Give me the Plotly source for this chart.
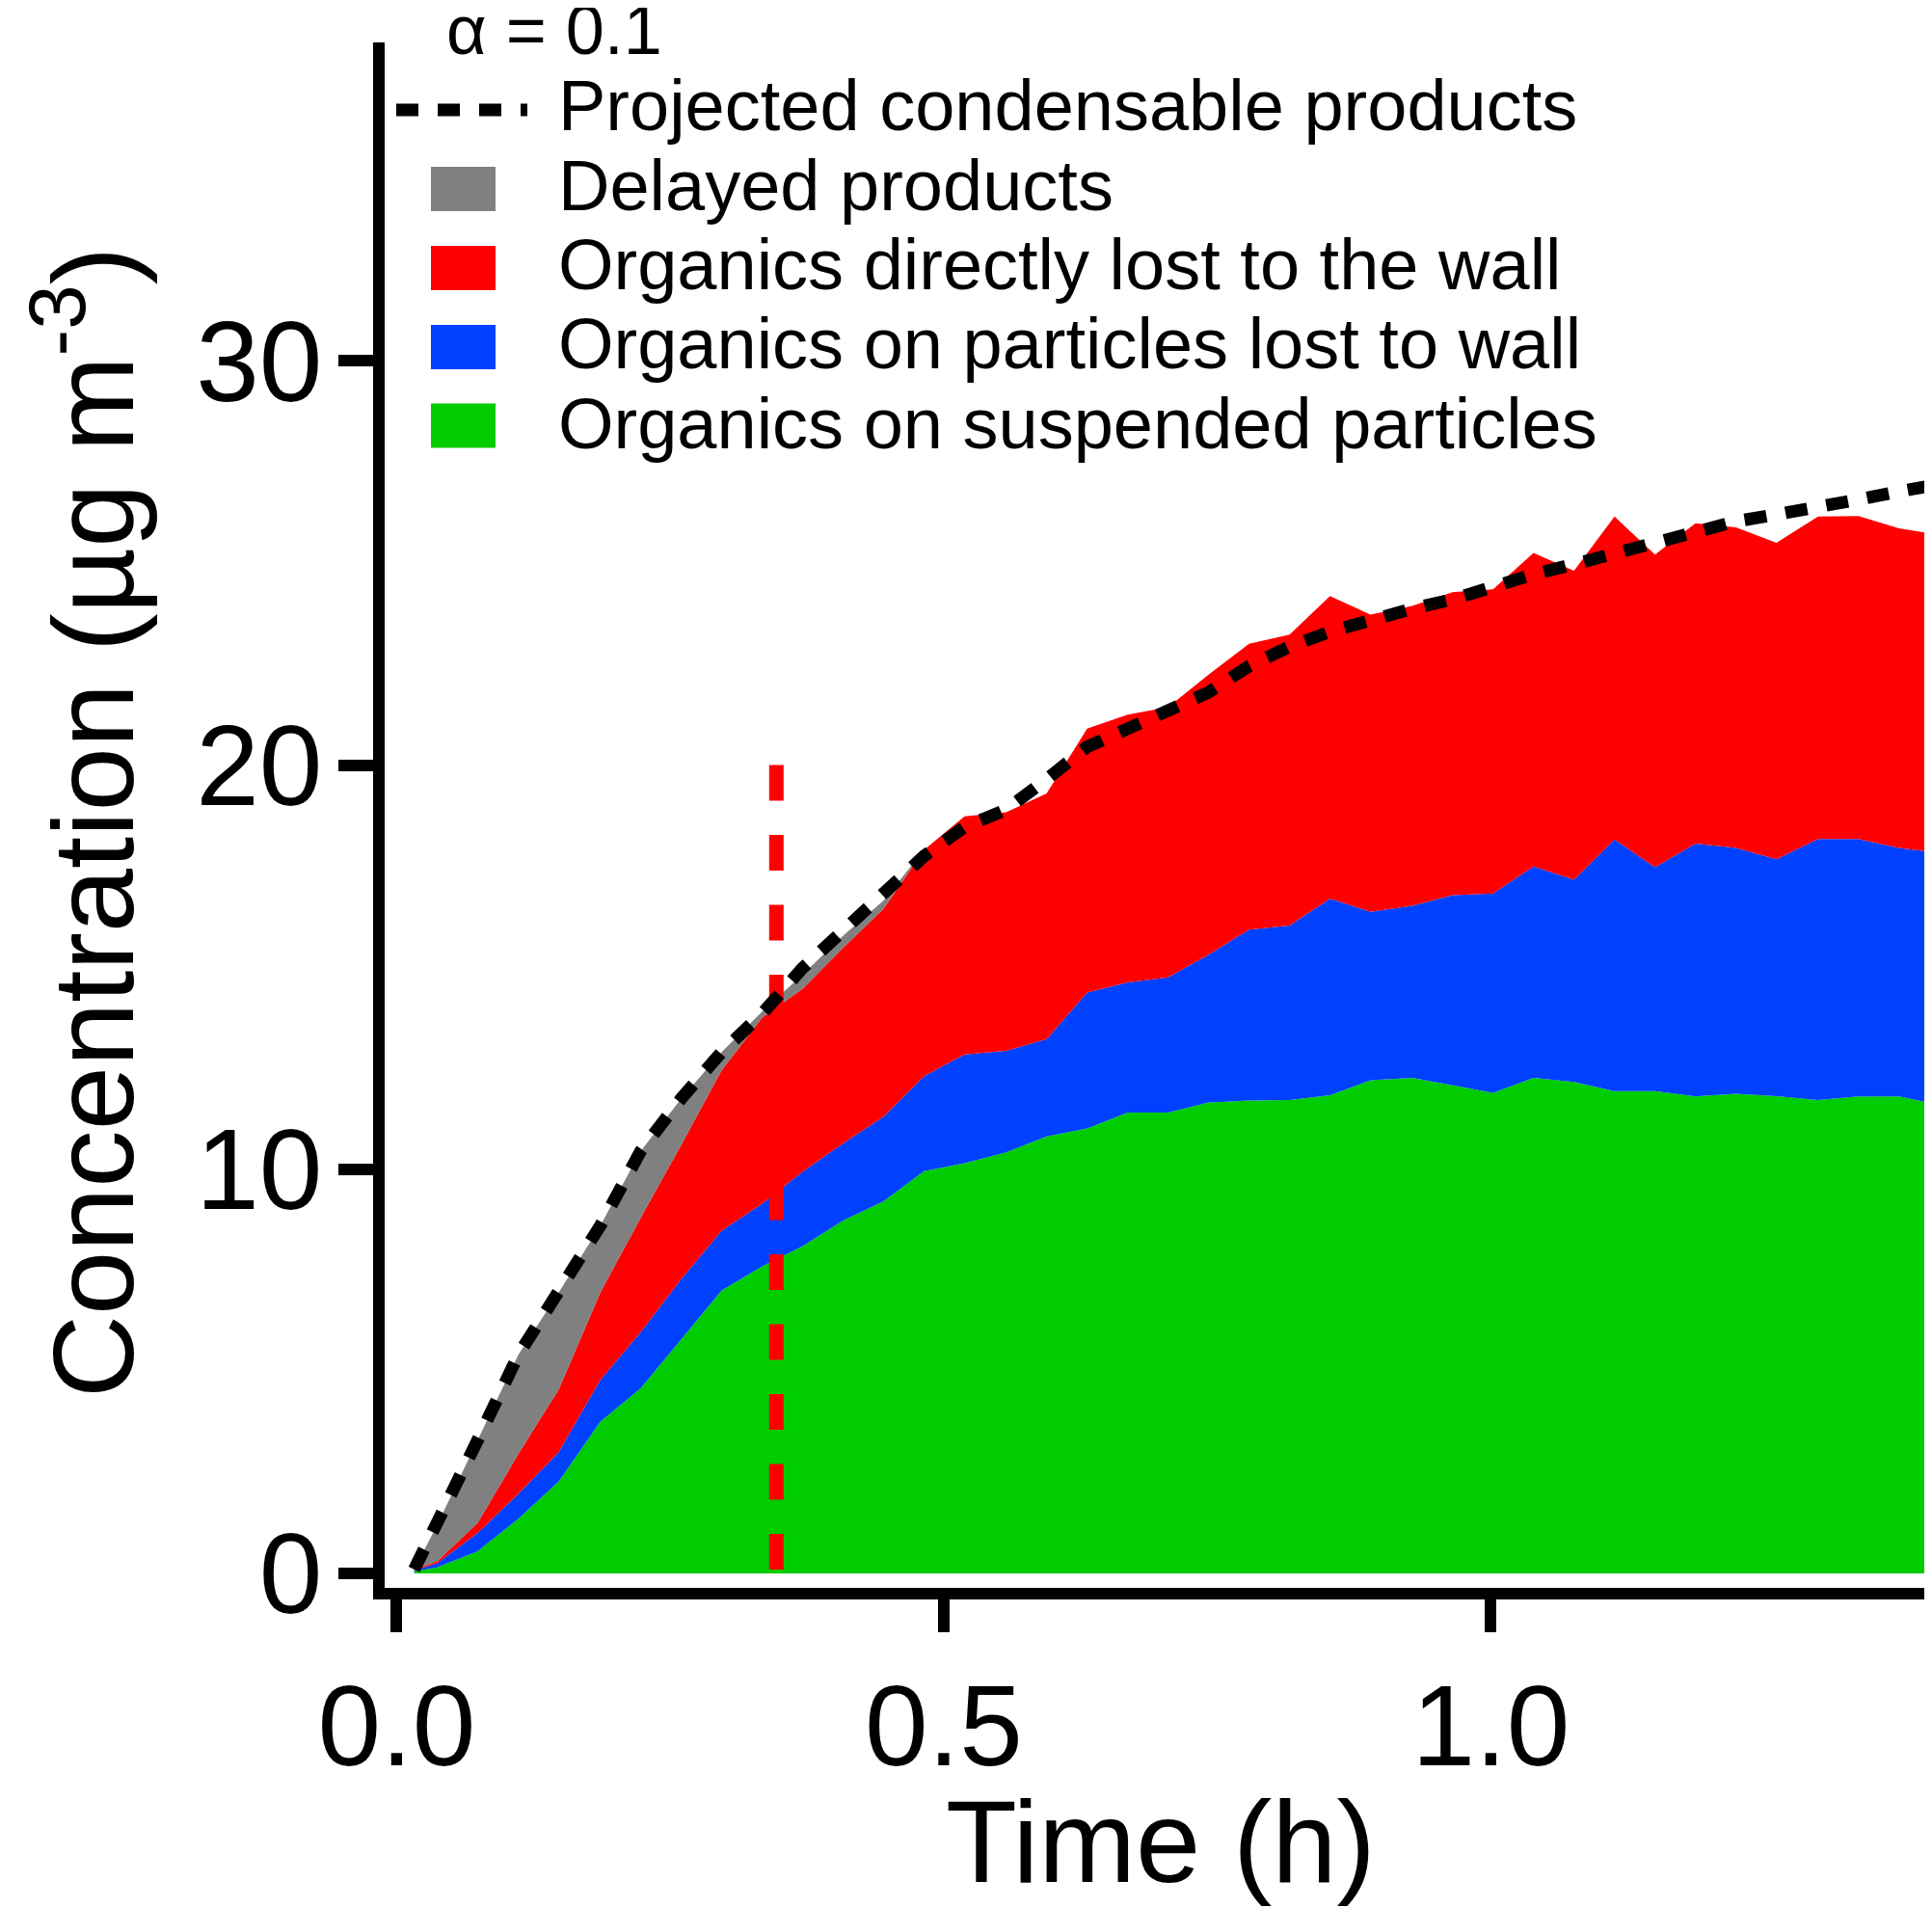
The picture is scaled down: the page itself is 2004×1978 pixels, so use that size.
import plotly.graph_objects as go

# values (alpha = 0.1 case)
time_h = [0.016, 0.037, 0.074, 0.111, 0.148, 0.186, 0.223, 0.260, 0.297, 0.334,
          0.371, 0.408, 0.445, 0.482, 0.519, 0.557, 0.594, 0.631, 0.668, 0.705,
          0.742, 0.779, 0.816, 0.853, 0.890, 0.928, 0.965, 1.002, 1.039, 1.076,
          1.113, 1.150, 1.187, 1.224, 1.261, 1.299, 1.336, 1.373, 1.400]

# top edges of the stacked areas (ug m-3)
suspended = [0.05, 0.15, 0.55, 1.35, 2.27, 3.75, 4.58, 5.8, 7.0, 7.6,
             8.1, 8.73, 9.21, 9.95, 10.15, 10.42, 10.81, 11.01, 11.4, 11.4,
             11.65, 11.7, 11.71, 11.83, 12.2, 12.26, 12.08, 11.89, 12.26, 12.16,
             11.93, 11.93, 11.8, 11.87, 11.81, 11.71, 11.8, 11.8, 11.65]
particle_wall_top = [0.08, 0.25, 1.0, 1.96, 3.0, 4.78, 5.97, 7.28, 8.48, 9.15,
                     9.94, 10.64, 11.3, 12.3, 12.84, 12.93, 13.22, 14.37, 14.62, 14.75,
                     15.31, 15.93, 16.03, 16.7, 16.37, 16.52, 16.78, 16.82, 17.49, 17.16,
                     18.16, 17.47, 18.06, 17.95, 17.67, 18.17, 18.17, 17.95, 17.86]
direct_wall_top = [0.1, 0.3, 1.25, 2.95, 4.55, 6.95, 8.8, 10.6, 12.45, 13.75,
                   14.47, 15.48, 16.45, 17.9, 18.73, 18.83, 19.3, 20.9, 21.25, 21.43,
                   22.24, 23.0, 23.23, 24.18, 23.72, 23.94, 24.28, 24.35, 25.25, 24.81,
                   26.15, 25.21, 25.98, 25.88, 25.5, 26.15, 26.16, 25.86, 25.74]
# thickness of the grey band
delayed = [0.0, 0.9, 2.05, 2.45, 2.4, 1.65, 1.65, 1.15, 0.45, 0.15,
           0.35, 0.3, 0.2, 0.0, 0.0, 0.0, 0.0, 0.0, 0.0, 0.0,
           0.0, 0.0, 0.0, 0.0, 0.0, 0.0, 0.0, 0.0, 0.0, 0.0,
           0.0, 0.0, 0.0, 0.0, 0.0, 0.0, 0.0, 0.0, 0.0]
projected = [0.1, 1.2, 3.3, 5.4, 6.95, 8.6, 10.45, 11.75, 12.9, 13.85,
             14.98, 15.9, 16.85, 17.75, 18.47, 18.9, 19.65, 20.45, 20.9, 21.33,
             21.8, 22.45, 22.93, 23.3, 23.62, 23.87, 24.1, 24.45, 24.72, 24.97,
             25.25, 25.47, 25.73, 26.03, 26.2, 26.36, 26.57, 26.77, 26.9]

# vertical marker, drawn top-down so the dash pattern starts at 20
cutoff_time = 0.347
cutoff_conc = [20, 0]

legend_labels = ['Projected condensable products', 'Delayed products',
                 'Organics directly lost to the wall', 'Organics on particles lost to wall',
                 'Organics on suspended particles']

GREEN = '#00cc00'
BLUE = '#0040ff'
RED = '#ff0000'
GRAY = '#808080'
FONT = 'Liberation Sans, Arial, sans-serif'


def main():
    gray_top = [r + d for r, d in zip(direct_wall_top, delayed)]

    fig = go.Figure()
    fig.add_trace(go.Scatter(x=time_h, y=suspended, mode='lines', fill='tozeroy',
                             line=dict(width=0, color=GREEN), fillcolor=GREEN,
                             name=legend_labels[4], showlegend=False))
    fig.add_trace(go.Scatter(x=time_h, y=particle_wall_top, mode='lines', fill='tonexty',
                             line=dict(width=0, color=BLUE), fillcolor=BLUE,
                             name=legend_labels[3], showlegend=False))
    fig.add_trace(go.Scatter(x=time_h, y=direct_wall_top, mode='lines', fill='tonexty',
                             line=dict(width=0, color=RED), fillcolor=RED,
                             name=legend_labels[2], showlegend=False))
    fig.add_trace(go.Scatter(x=time_h, y=gray_top, mode='lines', fill='tonexty',
                             line=dict(width=0, color=GRAY), fillcolor=GRAY,
                             name=legend_labels[1], showlegend=False))
    fig.add_trace(go.Scatter(x=[cutoff_time, cutoff_time], y=cutoff_conc, mode='lines',
                             line=dict(color=RED, width=15, dash='37px,35.5px'),
                             showlegend=False))
    fig.add_trace(go.Scatter(x=time_h, y=projected, mode='lines',
                             line=dict(color='black', width=13, dash='23px,20px'),
                             name=legend_labels[0], showlegend=False))

    # legend drawn by hand so the swatches match the original size
    # (positions given in page pixels, turned into plot-area fractions)
    def px(rx):
        return (rx - 399) / 1603

    def py(ry):
        return (1647 - ry) / 1603

    shapes = [dict(type='line', xref='paper', yref='paper',
                   x0=px(411), x1=px(547), y0=py(114), y1=py(114),
                   line=dict(color='black', width=13, dash='23px,20px'))]
    swatch_colors = [GRAY, RED, BLUE, GREEN]
    swatch_y = [196, 278, 360, 441.5]
    for c, yc in zip(swatch_colors, swatch_y):
        shapes.append(dict(type='rect', xref='paper', yref='paper',
                           x0=px(447), x1=px(514), y0=py(yc + 23), y1=py(yc - 23),
                           fillcolor=c, line=dict(width=0)))

    annotations = [dict(text='\u03b1 = 0.1', xref='paper', yref='paper',
                        x=px(461), y=py(31), xanchor='left', yanchor='middle',
                        showarrow=False, font=dict(size=72, color='black', family=FONT))]
    text_y = [109.4, 192, 274.5, 357, 439.5]
    for lab, yc in zip(legend_labels, text_y):
        annotations.append(dict(text=lab, xref='paper', yref='paper',
                                x=px(577), y=py(yc), xanchor='left', yanchor='middle',
                                showarrow=False,
                                font=dict(size=74, color='black', family=FONT)))
    # axis titles
    annotations.append(dict(text='Time (h)', xref='paper', yref='paper',
                            x=px(1204), y=py(1910), xanchor='center', yanchor='middle',
                            showarrow=False, font=dict(size=121, color='black', family=FONT)))
    annotations.append(dict(text='Concentration (\u00b5g m<sup>-3</sup>)', xref='paper',
                            yref='paper', x=px(88), y=py(853), xanchor='center',
                            yanchor='middle', textangle=-90, showarrow=False,
                            font=dict(size=119, color='black', family=FONT)))

    # the page adds an 8 px body margin, so the figure is 8 px smaller
    fig.update_layout(
        width=1996, height=1970, autosize=False,
        margin=dict(l=391, r=2, t=36, b=331),
        plot_bgcolor='white', paper_bgcolor='white',
        font=dict(family=FONT, color='black'),
        shapes=shapes, annotations=annotations,
        xaxis=dict(range=[-0.011, 1.4014], showline=True, linewidth=12, linecolor='black',
                   ticks='outside', ticklen=34, tickwidth=12, tickcolor='black',
                   tickvals=[0, 0.5, 1.0], ticktext=['0.0', '0.5', '1.0'],
                   tickfont=dict(size=118, family=FONT, color='black'),
                   ticklabelstandoff=-4, showgrid=False, zeroline=False),
        yaxis=dict(range=[-0.358, 37.88], showline=True, linewidth=12, linecolor='black',
                   ticks='outside', ticklen=36, tickwidth=12, tickcolor='black',
                   tickvals=[0, 10, 20, 30],
                   tickfont=dict(size=118, family=FONT, color='black'),
                   ticklabelstandoff=-7, showgrid=False, zeroline=False),
    )

    fig.write_html('out.html')


if __name__ == '__main__':
    main()
